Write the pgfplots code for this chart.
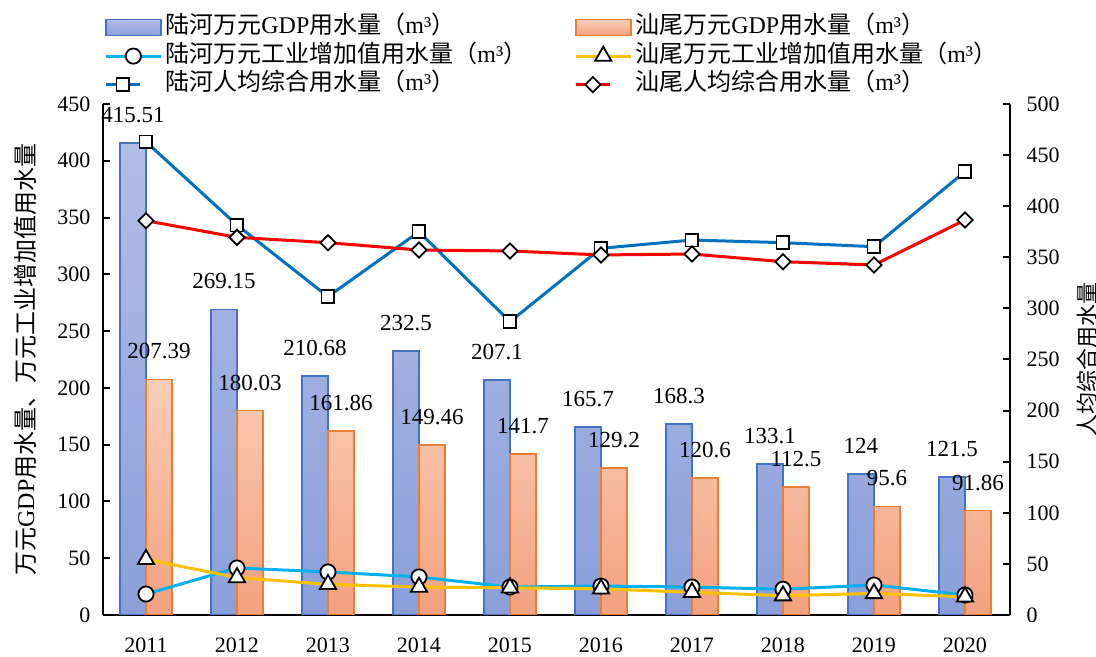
\documentclass[border=0pt]{standalone}
\usepackage{fontspec}
\setmainfont{Liberation Serif}
\newfontfamily\cjk{Noto Sans CJK SC}
\usepackage{pgfplots}
\pgfplotsset{compat=1.18}

\definecolor{lhedge}{HTML}{4472C4}
\definecolor{lhtop}{HTML}{B3BDE6}
\definecolor{lhbot}{HTML}{8A9FD9}
\definecolor{swedge}{HTML}{ED7D31}
\definecolor{swtop}{HTML}{F9CDB6}
\definecolor{swbot}{HTML}{F3A17F}
\definecolor{lhind}{HTML}{00B0F0}
\definecolor{swind}{HTML}{FFC000}
\definecolor{lhpc}{HTML}{0070C0}
\definecolor{swpc}{HTML}{FF0000}

\newcommand{\zh}[1]{{\cjk #1}}

\tikzset{lbl/.style={anchor=center, yshift=14pt, text=black, font=\fontsize{11.5}{12}\selectfont}}

\pgfplotsset{
  barleg/.style={legend image code/.code={\draw[##1] (0pt,-4pt) rectangle (27.5pt,4pt);}},
  lineleg/.style={legend image code/.code={\draw[mark repeat=2,mark phase=2,##1]
      plot coordinates {(0pt,0pt) (13.75pt,0pt) (27.5pt,0pt)};}},
  lhbar/.style={draw=lhedge, line width=0.8pt, top color=lhtop, bottom color=lhbot},
  swbar/.style={draw=swedge, line width=0.8pt, top color=swtop, bottom color=swbot},
  lhindline/.style={color=lhind, line width=1.5pt, mark=*, mark size=3.8pt,
      mark options={fill=white, draw=black, line width=0.9pt}},
  swindline/.style={color=swind, line width=1.5pt, mark=triangle*, mark size=4.7pt,
      mark options={fill=white, draw=black, line width=0.9pt}},
  lhpcline/.style={color=lhpc, line width=1.5pt, mark=square*, mark size=3.2pt,
      mark options={fill=white, draw=black, line width=0.9pt}},
  swpcline/.style={color=swpc, line width=1.5pt, mark=square*, mark size=2.7pt,
      mark options={rotate=45, fill=white, draw=black, line width=0.9pt}},
  base/.style={
    at={(0,0)}, anchor=south west,
    scale only axis, width=453.5pt, height=255.5pt,
    xmin=-0.4725, xmax=9.495, ymin=0,
    axis line style={line width=1pt, black},
    tick align=inside, major tick length=3.5pt,
    y tick style={line width=1pt, black},
    tick label style={font=\fontsize{11}{12}\selectfont},
    /pgf/number format/assume math mode=true,
  },
}

\begin{document}
\begin{tikzpicture}
% left axis: bars and industrial lines
\begin{axis}[base,
  ymax=450, ytick={0,50,...,450},
  axis x line*=bottom, axis y line*=left,
  xtick={0,...,9},
  xticklabels={2011,2012,2013,2014,2015,2016,2017,2018,2019,2020},
  x tick style={draw=none},
  xticklabel style={yshift=-8pt},
  yticklabel style={xshift=-2.8pt},
  ylabel={\zh{万元}GDP\zh{用水量、万元工业增加值用水量}},
  ylabel style={font=\fontsize{12}{12}\selectfont, at={(axis description cs:-0.0860,0.5)}, anchor=center},
]
\addplot[ybar, bar width=13pt, bar shift=-6.5pt, lhbar,
  nodes near coords, point meta=explicit symbolic,
  nodes near coords style={lbl, xshift=-6.5pt}]
  coordinates {
    (0,415.51) [415.51]
    (1,269.15) [269.15]
    (2,210.68) [210.68]
    (3,232.5) [232.5]
    (4,207.1) [207.1]
    (5,165.7) [165.7]
    (6,168.3) [168.3]
    (7,133.1) [133.1]
    (8,124) [124]
    (9,121.5) [121.5]
  };
\addplot[ybar, bar width=13pt, bar shift=6.5pt, swbar,
  nodes near coords, point meta=explicit symbolic,
  nodes near coords style={lbl, xshift=6.5pt}]
  coordinates {
    (0,207.39) [207.39]
    (1,180.03) [180.03]
    (2,161.86) [161.86]
    (3,149.46) [149.46]
    (4,141.7) [141.7]
    (5,129.2) [129.2]
    (6,120.6) [120.6]
    (7,112.5) [112.5]
    (8,95.6) [95.6]
    (9,91.86) [91.86]
  };
\addplot[lhindline] coordinates {
  (0,18.5) (1,41.4) (2,37.9) (3,33.5) (4,24.6)
  (5,25.5) (6,24.6) (7,22.7) (8,26.4) (9,17.6)
};
\addplot[swindline] coordinates {
  (0,49) (1,33) (2,27) (3,24.6) (4,24)
  (5,23) (6,20) (7,17) (8,19) (9,16)
};
\end{axis}
% right axis: per-capita lines and the legend
\begin{axis}[base,
  ymax=500, ytick={0,50,...,500},
  axis x line=none, axis y line*=right,
  yticklabel style={xshift=4.8pt},
  ylabel={\zh{人均综合用水量}},
  ylabel style={font=\fontsize{11}{12}\selectfont, at={(axis description cs:1.0849,0.5)}, anchor=center},
  legend columns=2,
  legend cell align=left,
  legend style={draw=none, fill=none, inner sep=0pt, row sep=0.25pt,
    at={(0,1)}, anchor=south west, xshift=0.5pt, yshift=2.5pt,
    font=\fontsize{12}{12}\selectfont,
    nodes={inner sep=1.5pt, text height=8.5pt, text depth=2.5pt},
    /tikz/every even column/.append style={column sep=22pt}},
]
\addlegendimage{barleg, lhbar}
\addlegendentry{\zh{陆河万元}GDP\zh{用水量（}m³\zh{）}}
\addlegendimage{barleg, swbar}
\addlegendentry{\zh{汕尾万元}GDP\zh{用水量（}m³\zh{）}}
\addlegendimage{lineleg, lhindline}
\addlegendentry{\zh{陆河万元工业增加值用水量（}m³\zh{）}}
\addlegendimage{lineleg, swindline}
\addlegendentry{\zh{汕尾万元工业增加值用水量（}m³\zh{）}}
\addplot[lhpcline] coordinates {
  (0,463) (1,381.6) (2,311.5) (3,375) (4,287)
  (5,358.8) (6,366.9) (7,364.3) (8,360.4) (9,433.8)
};
\addlegendentry{\zh{陆河人均综合用水量（}m³\zh{）}}
\addplot[swpcline] coordinates {
  (0,385.8) (1,369.5) (2,364.3) (3,357.1) (4,356.2)
  (5,352.3) (6,353.2) (7,345.7) (8,342.5) (9,386.5)
};
\addlegendentry{\zh{汕尾人均综合用水量（}m³\zh{）}}
\end{axis}
\pgfresetboundingbox
\path[use as bounding box] (-51.5pt,-21pt) rectangle (496.5pt,307.5pt);
\end{tikzpicture}
\end{document}
